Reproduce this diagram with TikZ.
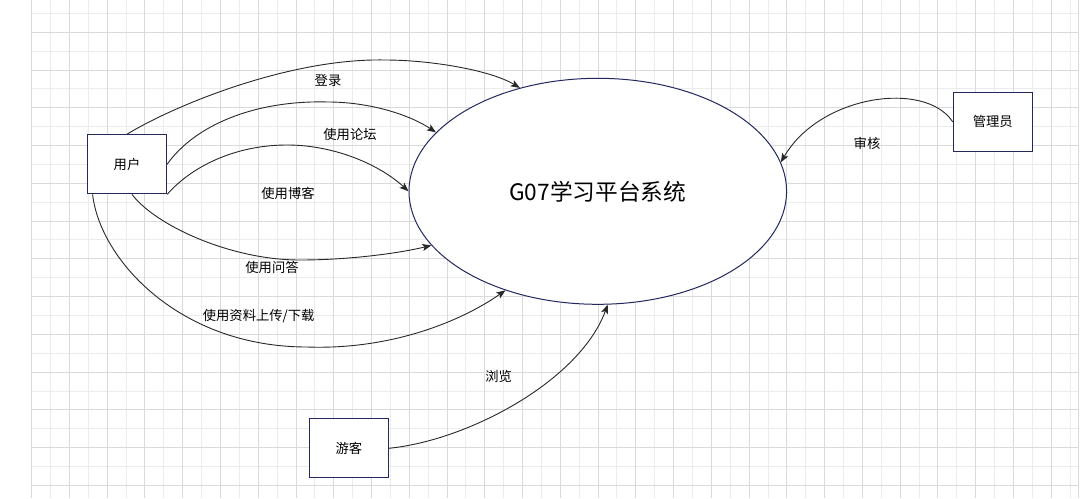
\documentclass[tikz,border=0pt]{standalone}
\usepackage{fontspec}
\setmainfont{Noto Sans CJK SC}
\usetikzlibrary{arrows.meta,shapes.geometric}
\definecolor{navy}{RGB}{35,40,95}
\definecolor{gmaj}{RGB}{218,218,218}
\definecolor{gmin}{RGB}{236,236,236}
\definecolor{edgec}{RGB}{40,40,40}
\begin{document}
\begin{tikzpicture}[x=1pt,y=-1pt,
  entity/.style={draw=navy, line width=1.2pt, fill=white, minimum width=79pt, minimum height=59pt, inner sep=0pt, font=\fontsize{13.3}{16}\selectfont},
  flow/.style={draw=edgec, line width=0.9pt, -{Stealth[length=9pt,width=7pt,inset=2pt]}},
  lbl/.style={font=\fontsize{13.3}{16}\selectfont, inner sep=0pt, text=black}]
\useasboundingbox (0,0) rectangle (1083,498);
\fill[white] (0,0) rectangle (1083,498);
% grid
\foreach \k in {0,...,27} \draw[gmin, line width=1pt] ({50.58+37.76*\k},0) -- ({50.58+37.76*\k},498);
\foreach \k in {0,...,12} \draw[gmin, line width=1pt] (31.7,{13.4+37.76*\k}) -- (1078.3,{13.4+37.76*\k});
\foreach \k in {0,...,27} \draw[gmaj, line width=1pt] ({31.7+37.76*\k},0) -- ({31.7+37.76*\k},498);
\foreach \k in {0,...,12} \draw[gmaj, line width=1pt] (31.7,{32.28+37.76*\k}) -- (1078.3,{32.28+37.76*\k});
\draw[gmaj, line width=1pt] (1078.3,0) -- (1078.3,498);
% nodes
\node[draw=navy, line width=1pt, fill=white, ellipse, minimum width=377.6pt, minimum height=226pt, inner sep=0pt, font=\fontsize{22.7}{27}\selectfont] (sys) at (597.8,191.3) {G07学习平台系统};
\node[entity] (user) at (127,164.3) {用户};
\node[entity] (admin) at (992.8,121.8) {管理员};
\node[entity] (guest) at (348.9,448.3) {游客};
% flows
\draw[flow] (user.north) .. controls (175,105) and (290,58) .. (385,60) .. controls (430,60) and (490,70) .. (sys.127);
\draw[flow] (user.east) .. controls (195,125) and (255,100) .. (328,102) .. controls (370,102) and (410,115) .. (sys.160);
\draw[flow] (user.south east) .. controls (195,163) and (240,145) .. (287,145) .. controls (335,145) and (380,165) .. (sys.west);
\draw[flow] ([xshift=5pt]user.south) .. controls (155,225) and (230,260) .. (300,260) .. controls (350,260) and (400,253) .. (sys.198);
\draw[flow] ([xshift=5.7pt]user.south west) .. controls (100,260) and (180,347) .. (307,347) .. controls (390,350) and (460,322) .. (sys.227);
\draw[flow] (guest.east) .. controls (470,440) and (580,380) .. (sys.275);
\draw[flow] (admin.west) .. controls (925,80) and (820,95) .. (sys.9);
% labels
\node[lbl] (l1) at (328,80) {登录};
\node[lbl] (l2) at (350,134) {使用论坛};
\node[lbl] (l3) at (288,193) {使用博客};
\node[lbl] (l4) at (272,267.5) {使用问答};
\node[lbl] (l5) at (258.7,316) {使用资料上传/下载};
\node[lbl] (l6) at (498.6,376) {浏览};
\node[lbl] (l7) at (867,143.5) {审核};
\end{tikzpicture}
\end{document}
